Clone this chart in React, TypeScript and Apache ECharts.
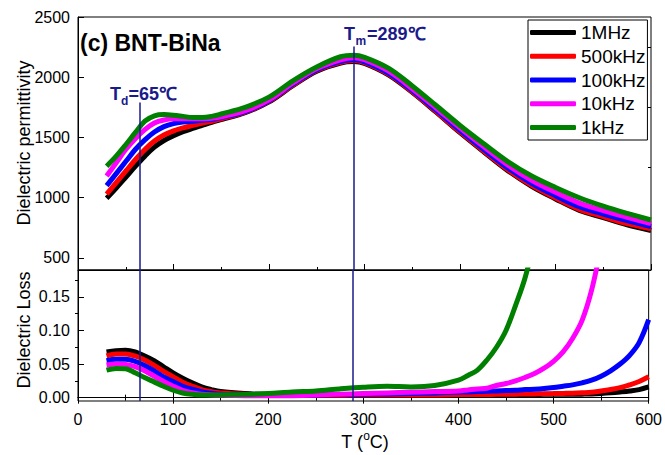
import React, { useEffect, useRef } from "react";
import * as echarts from "echarts";

// ---------- data ----------
const seriesNames = ["1MHz", "500kHz", "100kHz", "10kHz", "1kHz"];
const seriesColors = ["#000000", "#ff0000", "#0000ff", "#ff00ff", "#008000"];

// Dielectric permittivity vs T
const temps = [30, 40, 50, 60, 70, 80, 90, 100, 110, 120, 130, 140, 150, 175, 200, 225, 250, 275, 289, 300, 325, 350, 375, 400, 425, 450, 475, 500, 525, 550, 575, 600];
const eps1MHz = [995, 1080, 1170, 1260, 1345, 1420, 1475, 1515, 1548, 1575, 1600, 1625, 1648, 1705, 1795, 1930, 2050, 2118, 2130, 2115, 2020, 1875, 1710, 1540, 1380, 1225, 1095, 990, 895, 835, 775, 728];
const eps500kHz = [1030, 1125, 1220, 1315, 1400, 1470, 1520, 1555, 1580, 1600, 1618, 1635, 1655, 1710, 1800, 1935, 2055, 2123, 2138, 2120, 2025, 1880, 1715, 1546, 1386, 1232, 1102, 997, 903, 843, 785, 742];
const eps100kHz = [1100, 1200, 1300, 1400, 1480, 1545, 1590, 1615, 1628, 1635, 1642, 1650, 1665, 1715, 1805, 1942, 2062, 2132, 2148, 2130, 2035, 1890, 1727, 1560, 1400, 1248, 1120, 1017, 925, 865, 810, 760];
const eps10kHz = [1180, 1290, 1400, 1490, 1565, 1620, 1645, 1655, 1656, 1655, 1656, 1660, 1672, 1722, 1812, 1952, 2072, 2145, 2162, 2145, 2052, 1905, 1745, 1580, 1422, 1272, 1145, 1045, 955, 893, 838, 785];
const eps1kHz = [1262, 1345, 1440, 1540, 1635, 1680, 1690, 1685, 1675, 1665, 1665, 1675, 1695, 1750, 1835, 1970, 2085, 2170, 2183, 2165, 2075, 1928, 1765, 1600, 1447, 1300, 1180, 1085, 1000, 930, 870, 815];

// Dielectric loss vs T
const lossTemps = [30, 40, 50, 60, 70, 80, 90, 100, 110, 120, 130, 140, 150, 175, 200, 225, 250, 275, 300, 325, 350, 375, 400, 410, 420, 430, 440, 450, 460, 470, 480, 490, 500, 510, 520, 530, 540, 550, 560, 570, 580, 590, 600];
const loss1MHz = [0.068, 0.07, 0.0705, 0.068, 0.062, 0.055, 0.046, 0.037, 0.029, 0.022, 0.016, 0.012, 0.009, 0.006, 0.0045, 0.004, 0.0035, 0.0035, 0.0035, 0.0035, 0.0035, 0.0035, 0.004, 0.004, 0.004, 0.0042, 0.0044, 0.0045, 0.0046, 0.0047, 0.0048, 0.0049, 0.005, 0.005, 0.005, 0.0052, 0.0055, 0.0062, 0.0072, 0.0085, 0.01, 0.012, 0.016];
const loss500kHz = [0.062, 0.065, 0.065, 0.062, 0.056, 0.048, 0.039, 0.031, 0.023, 0.017, 0.012, 0.009, 0.007, 0.005, 0.004, 0.0035, 0.0035, 0.0035, 0.004, 0.004, 0.004, 0.004, 0.0045, 0.0046, 0.0047, 0.0048, 0.0049, 0.005, 0.0052, 0.0054, 0.0056, 0.0058, 0.006, 0.0063, 0.0066, 0.0072, 0.008, 0.01, 0.012, 0.015, 0.019, 0.024, 0.031];
const loss100kHz = [0.055, 0.057, 0.057, 0.054, 0.048, 0.04, 0.031, 0.024, 0.017, 0.0125, 0.009, 0.0065, 0.005, 0.004, 0.0035, 0.0035, 0.004, 0.0045, 0.005, 0.0055, 0.006, 0.007, 0.008, 0.0085, 0.009, 0.0095, 0.01, 0.0105, 0.011, 0.012, 0.0125, 0.0135, 0.015, 0.017, 0.019, 0.022, 0.026, 0.032, 0.04, 0.05, 0.063, 0.082, 0.116];
const loss10kHz = [0.0485, 0.05, 0.0495, 0.046, 0.04, 0.032, 0.024, 0.017, 0.011, 0.0075, 0.005, 0.004, 0.0035, 0.003, 0.003, 0.003, 0.004, 0.005, 0.006, 0.007, 0.008, 0.009, 0.01, 0.0115, 0.013, 0.014, 0.018, 0.021, 0.025, 0.03, 0.036, 0.044, 0.054, 0.068, 0.088, 0.115, 0.16, 0.225, null, null, null, null, null];
const loss1kHz = [0.041, 0.0435, 0.043, 0.037, 0.03, 0.0235, 0.017, 0.011, 0.007, 0.005, 0.004, 0.0038, 0.004, 0.0045, 0.006, 0.0085, 0.01, 0.013, 0.0155, 0.017, 0.016, 0.018, 0.026, 0.033, 0.041, 0.056, 0.075, 0.1, 0.137, 0.178, 0.235, null, null, null, null, null, null, null, null, null, null, null, null];

const epsSets = [eps1MHz, eps500kHz, eps100kHz, eps10kHz, eps1kHz];
const lossSets = [loss1MHz, loss500kHz, loss100kHz, loss10kHz, loss1kHz];

// axis ticks
const epsTicks = [500, 1000, 1500, 2000, 2500];
const epsMinorTicks = [750, 1250, 1750, 2250];
const lossTicks = [0, 0.05, 0.1, 0.15];
const lossMinorTicks = [0.025, 0.075, 0.125, 0.175];

// annotation temperatures
const Td = 65;
const Tm = 289;

const FONT = '"Liberation Sans", Arial, Helvetica, sans-serif';
const NAVY = "#1a1a8a";

export default function App() {
  const ref = useRef<HTMLDivElement>(null);

  useEffect(() => {
    if (!ref.current) return;
    const chart = echarts.init(ref.current, undefined, { renderer: "svg" });

    const gridL = 78;
    const gridW = 573;

    const axisLineStyle = { color: "#000", width: 1 };

    const xBase = (gridIndex: number, position: string, showLabel: boolean) => ({
      type: "value",
      gridIndex,
      position,
      min: 0,
      max: 600,
      interval: 100,
      axisLine: { show: true, lineStyle: axisLineStyle },
      axisTick: { show: true, inside: true, length: 6, lineStyle: axisLineStyle },
      minorTick: { show: true, splitNumber: 2, length: 3, lineStyle: axisLineStyle },
      splitLine: { show: false },
      minorSplitLine: { show: false },
      axisLabel: { show: showLabel, fontSize: 16, color: "#000", fontFamily: FONT, margin: 10 },
    });

    const yMajor = (gridIndex: number, min: number, max: number, ticks: number[], fmt: (v: number) => string) => ({
      type: "value",
      gridIndex,
      min,
      max,
      axisLine: { show: true, lineStyle: axisLineStyle },
      axisTick: { show: true, inside: true, length: 6, customValues: ticks, lineStyle: axisLineStyle },
      axisLabel: { show: true, customValues: ticks, formatter: fmt, fontSize: 16, color: "#000", fontFamily: FONT, margin: 8 },
      splitLine: { show: false },
    });
    const yMinor = (gridIndex: number, min: number, max: number, ticks: number[]) => ({
      type: "value",
      gridIndex,
      min,
      max,
      axisLine: { show: false },
      axisTick: { show: true, inside: true, length: 3, customValues: ticks, lineStyle: axisLineStyle },
      axisLabel: { show: false, customValues: ticks },
      splitLine: { show: false },
    });

    const topSeries = seriesNames.map((name, k) => ({
      name,
      type: "line",
      xAxisIndex: 0,
      yAxisIndex: 0,
      data: temps.map((t, i) => [t, epsSets[k][i]]),
      showSymbol: false,
      symbol: "none",
      smooth: 0.35,
      clip: true,
      color: seriesColors[k],
      lineStyle: { width: 5, color: seriesColors[k] },
      z: 2 + k,
      ...(k === seriesNames.length - 1
        ? {
            markLine: {
              silent: true,
              symbol: "none",
              label: { show: false },
              lineStyle: { color: NAVY, width: 1.5, type: "solid" },
              data: [
                [{ coord: [Td, 1790] }, { coord: [Td, 400] }],
                [{ coord: [Tm, 2255] }, { coord: [Tm, 400] }],
              ],
              z: 20,
            },
          }
        : {}),
    }));

    const bottomSeries = seriesNames.map((name, k) => ({
      name,
      type: "line",
      xAxisIndex: 1,
      yAxisIndex: 2,
      data: lossTemps.map((t, i) => [t, lossSets[k][i]]),
      showSymbol: false,
      symbol: "none",
      smooth: 0.35,
      clip: true,
      connectNulls: false,
      color: seriesColors[k],
      lineStyle: { width: 5, color: seriesColors[k] },
      z: 2 + k,
      ...(k === seriesNames.length - 1
        ? {
            markLine: {
              silent: true,
              symbol: "none",
              label: { show: false },
              lineStyle: { color: NAVY, width: 1.5, type: "solid" },
              data: [
                [{ coord: [Td, -0.005] }, { coord: [Td, 0.19] }],
                [{ coord: [Tm, -0.005] }, { coord: [Tm, 0.19] }],
              ],
              z: 20,
            },
          }
        : {}),
    }));

    const option: any = {
      animation: false,
      backgroundColor: "#ffffff",
      textStyle: { fontFamily: FONT },
      grid: [
        { left: gridL, top: 17, width: gridW, height: 253, show: true, borderColor: "#000", borderWidth: 1, backgroundColor: "transparent" },
        { left: gridL, top: 270, width: gridW, height: 131, show: true, borderColor: "#000", borderWidth: 1, backgroundColor: "transparent" },
      ],
      xAxis: [xBase(0, "bottom", false), xBase(1, "bottom", true), xBase(1, "top", false)],
      yAxis: [
        yMajor(0, 400, 2500, epsTicks, (v: number) => String(v)),
        yMinor(0, 400, 2500, epsMinorTicks),
        yMajor(1, -0.005, 0.19, lossTicks, (v: number) => v.toFixed(2)),
        yMinor(1, -0.005, 0.19, lossMinorTicks),
      ],
      legend: {
        data: seriesNames,
        orient: "vertical",
        left: 528,
        top: 20,
        padding: [3, 2, 3, 2],
        itemGap: 4.75,
        itemWidth: 46,
        itemHeight: 5,
        icon: "roundRect",
        borderColor: "#000",
        borderWidth: 1,
        backgroundColor: "#fff",
        selectedMode: false,
        textStyle: { fontSize: 19, color: "#000", fontFamily: FONT, lineHeight: 19 },
      },
      graphic: [
        {
          type: "text",
          x: 80,
          y: 43,
          style: { text: "(c) BNT-BiNa", font: `bold 23px ${FONT}`, fill: "#000", verticalAlign: "middle", align: "left" },
        },
        { type: "text", x: 110, y: 94, style: { text: "T", font: `bold 18px ${FONT}`, fill: NAVY, verticalAlign: "middle" } },
        { type: "text", x: 121, y: 101, style: { text: "d", font: `bold 12px ${FONT}`, fill: NAVY, verticalAlign: "middle" } },
        { type: "text", x: 128.5, y: 94, style: { text: "=65℃", font: `bold 18px ${FONT}`, fill: NAVY, verticalAlign: "middle" } },
        { type: "text", x: 344, y: 34, style: { text: "T", font: `bold 18px ${FONT}`, fill: NAVY, verticalAlign: "middle" } },
        { type: "text", x: 355.5, y: 41, style: { text: "m", font: `bold 12px ${FONT}`, fill: NAVY, verticalAlign: "middle" } },
        { type: "text", x: 367, y: 34, style: { text: "=289℃", font: `bold 18px ${FONT}`, fill: NAVY, verticalAlign: "middle" } },
        {
          type: "text",
          x: 24,
          y: 143,
          rotation: Math.PI / 2,
          style: { text: "Dielectric permittivity", font: `18px ${FONT}`, fill: "#000", align: "center", verticalAlign: "middle" },
        },
        {
          type: "text",
          x: 24,
          y: 330,
          rotation: Math.PI / 2,
          style: { text: "Dielectric Loss", font: `18px ${FONT}`, fill: "#000", align: "center", verticalAlign: "middle" },
        },
        {
          type: "text",
          x: 365,
          y: 440,
          style: {
            text: "{a|T (}{s|o}{a|C)}",
            align: "center",
            verticalAlign: "middle",
            rich: {
              a: { fontSize: 18, fontFamily: FONT, fill: "#000", color: "#000", lineHeight: 21, verticalAlign: "bottom" },
              s: { fontSize: 12, fontFamily: FONT, fill: "#000", color: "#000", lineHeight: 21, verticalAlign: "top" },
            },
          },
        },
      ],
      series: [...topSeries, ...bottomSeries],
    };

    chart.setOption(option);
    return () => chart.dispose();
  }, []);

  return <div ref={ref} style={{ position: "fixed", left: 0, top: 0, width: 665, height: 455, background: "#fff" }} />;
}
